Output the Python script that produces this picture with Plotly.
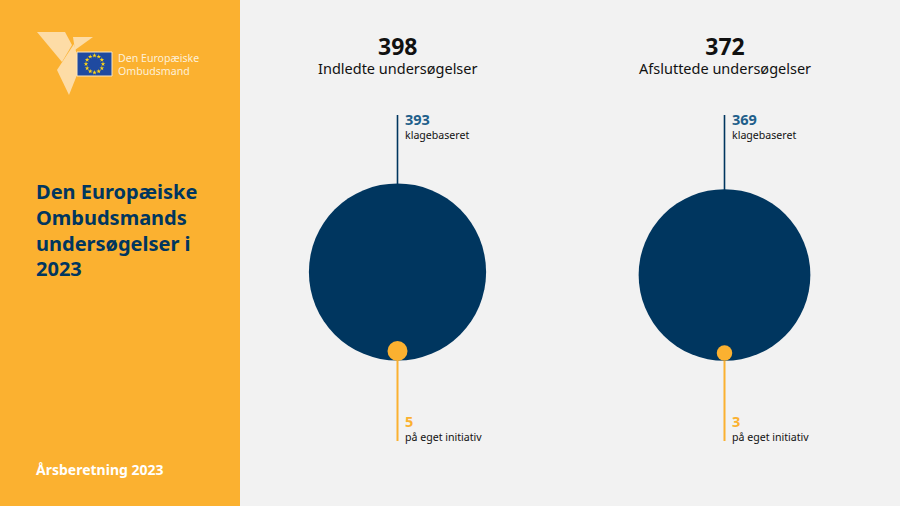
import math
import plotly.graph_objects as go

NAVY = "#00365f"
BLUE = "#1f5f8b"
YELLOW = "#fbb130"
BACK = "#f2f2f2"
PALE = "#fddca6"
INK = "#111111"
FONT = "Noto Sans"

# Data
totals = [398, 372]
total_labels = ["Indledte undersøgelser", "Afsluttede undersøgelser"]
complaints = [393, 369]
own_initiative = [5, 3]
complaint_label = "klagebaseret"
own_label = "på eget initiativ"
title_lines = ["Den Europæiske", "Ombudsmands", "undersøgelser i", "2023"]
title_y = [191, 217, 243, 268]

# Pixel layout of the two bubbles
centers_x = [397.5, 724.5]
centers_y = [272, 275]
small_y = [351, 353]
scale = 4.47  # radius in px per sqrt(value)

fig = go.Figure()

# Yellow side panel
fig.add_shape(type="rect", x0=0, x1=240, y0=0, y1=506, fillcolor=YELLOW, line_width=0, layer="below")

# Logo chevrons
fig.add_shape(type="path", path="M37,32 L65,32 L72,45 L62,62 Z", fillcolor=PALE, line_width=0, layer="below")
fig.add_shape(type="path", path="M73,37 L93,37 L75,50 Z", fillcolor=PALE, line_width=0, layer="below")
fig.add_shape(type="path", path="M74,44 L77,55 L77,75 L69,95 L57,70 Z", fillcolor=PALE, line_width=0, layer="below")
fig.add_shape(type="rect", x0=77, x1=112, y0=52, y1=76, fillcolor="#1f4aa0",
              line=dict(color="#fde6bd", width=1), layer="below")

# Flag stars
star_x = [94.5 + 8.5 * math.sin(i * math.pi / 6) for i in range(12)]
star_y = [64 - 8.5 * math.cos(i * math.pi / 6) for i in range(12)]
fig.add_trace(go.Scatter(x=star_x, y=star_y, mode="markers",
                         marker=dict(symbol="star", size=3.5, color="#ffd617"), hoverinfo="skip"))


def text(x, y, s, size, color, bold=False, anchor="left"):
    if bold:
        s = f"<b>{s}</b>"
    fig.add_annotation(x=x, y=y, text=s, showarrow=False, xanchor=anchor, yanchor="middle", align=anchor,
                       borderpad=0, borderwidth=0, font=dict(family=FONT, size=size, color=color))


# Two lines in one text block, the bold top line gets its own size and colour
def block(x, y, top, top_size, top_color, bottom, size, anchor="left"):
    s = f'<span style="font-size:{top_size}px;color:{top_color}"><b>{top}</b></span><br>{bottom}'
    fig.add_annotation(x=x, y=y, text=s, showarrow=False, xanchor=anchor, yanchor="middle", align=anchor,
                       borderpad=0, borderwidth=0, font=dict(family=FONT, size=size, color=INK))


text(118, 57.5, "Den Europæiske", 10.6, "#fdf0d8")
text(118, 70.5, "Ombudsmand", 10.6, "#fdf0d8")

for line, y in zip(title_lines, title_y):
    text(36, y, line, 20, NAVY, True)
text(36, 469, "Årsberetning 2023", 14, "white", True)

for i in range(2):
    cx = centers_x[i]
    r_big = scale * math.sqrt(complaints[i])
    r_small = scale * math.sqrt(own_initiative[i])

    # Leader lines
    fig.add_trace(go.Scatter(x=[cx, cx], y=[115, centers_y[i] - r_big + 1], mode="lines",
                             line=dict(color=NAVY, width=1.6), hoverinfo="skip"))
    fig.add_trace(go.Scatter(x=[cx, cx], y=[small_y[i], 441], mode="lines",
                             line=dict(color=YELLOW, width=2), hoverinfo="skip"))

    # Bubbles, area follows the value
    fig.add_trace(go.Scatter(x=[cx], y=[centers_y[i]], mode="markers", name=complaint_label,
                             marker=dict(size=2 * r_big, color=NAVY, line_width=0)))
    fig.add_trace(go.Scatter(x=[cx], y=[small_y[i]], mode="markers", name=own_label,
                             marker=dict(size=2 * r_small, color=YELLOW, line_width=0)))

    block(cx, 53.5, totals[i], 23, INK, total_labels[i], 14.5, "center")
    block(cx + 7.5, 125.5, complaints[i], 14.5, BLUE, complaint_label, 10.6)
    block(cx + 7.5, 427.5, own_initiative[i], 14.5, YELLOW, own_label, 10.6)

fig.update_layout(
    width=900, height=506,
    margin=dict(l=0, r=0, t=0, b=0),
    paper_bgcolor=BACK, plot_bgcolor=BACK,
    showlegend=False,
    xaxis=dict(range=[0, 900], visible=False, fixedrange=True),
    yaxis=dict(range=[506, 0], visible=False, fixedrange=True),
)

# Page default margin would shift the chart by 8 px
fig.write_html("out.html", post_script="document.body.style.margin='0';", config=dict(displayModeBar=False))
